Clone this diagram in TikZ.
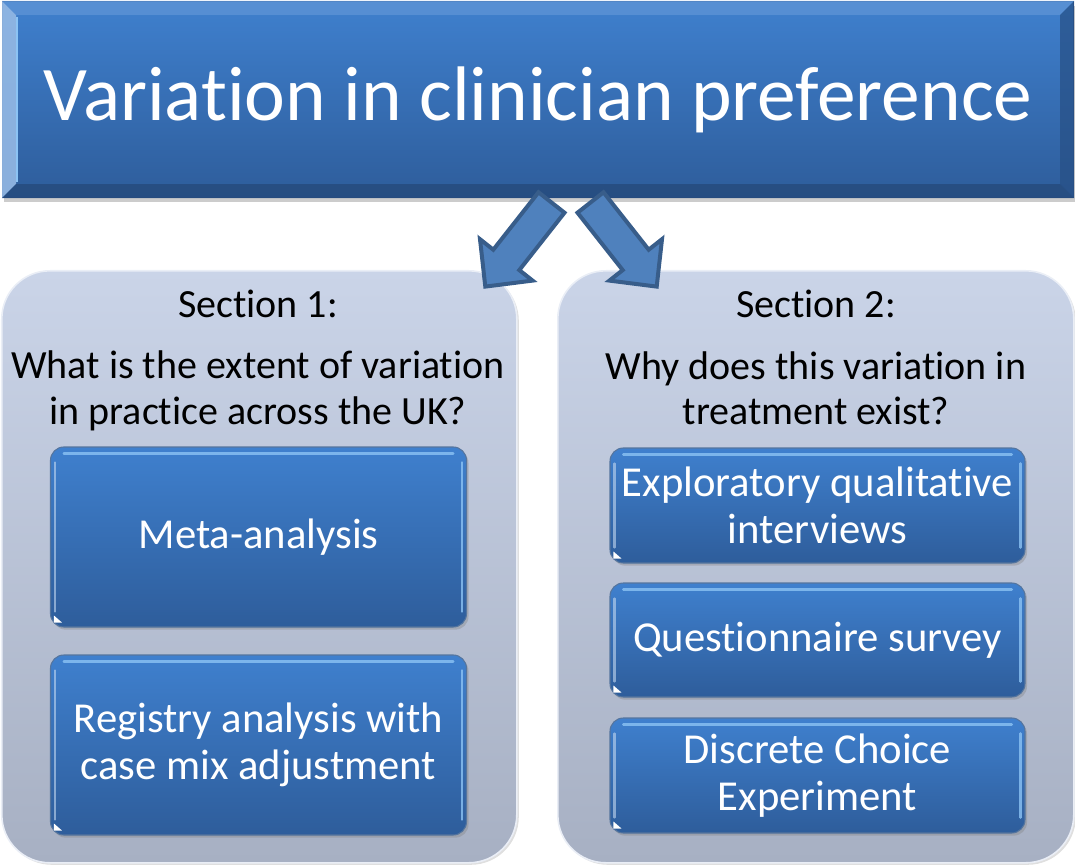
\documentclass[tikz,border=0pt]{standalone}
\usepackage{fontspec}
\setmainfont[Ligatures={NoCommon}]{Carlito}
\usetikzlibrary{shadows,calc}
\definecolor{bluetop}{HTML}{3F80CE}
\definecolor{bluebot}{HTML}{2E5D9B}
\definecolor{blueedge}{HTML}{2B5286}
\definecolor{bluehl}{HTML}{8CC3F4}
\definecolor{paneltop}{HTML}{CAD4E8}
\definecolor{panelbot}{HTML}{A7B0C3}
\definecolor{arrowfill}{HTML}{4F81BD}
\definecolor{arrowline}{HTML}{385D8A}
\newcommand\mybevel[1]{%
  \draw[bluehl, line width=2.2pt, opacity=0.8, line cap=round]
    ($(#1.north west)+(14,7)$) -- ($(#1.north east)+(-14,7)$);
  \draw[bluehl, line width=2pt, opacity=0.8, line cap=round]
    ($(#1.north east)+(-5,16)$) -- ($(#1.south east)+(-5,-16)$);
  \draw[white!70!bluetop, line width=1.6pt, opacity=0.6, line cap=round]
    ($(#1.north west)+(5,16)$) -- ($(#1.south west)+(5,-16)$);
  \fill[white] ($(#1.south west)+(4,-12)$) -- ($(#1.south west)+(12,-5)$) -- ($(#1.south west)+(4,-5)$) -- cycle;
}
\begin{document}
\begin{tikzpicture}[x=0.75pt,y=-0.75pt,
  panel/.style={rounded corners=36pt, top color=paneltop, bottom color=panelbot,
    draw=white!60!paneltop, line width=1.2pt,
    drop shadow={opacity=0.25, shadow xshift=1.5pt, shadow yshift=-1.5pt}},
  bluebox/.style={rounded corners=10pt, top color=bluetop, bottom color=bluebot,
    draw=blueedge!80, line width=0.8pt, text=white, align=center,
    font=\fontsize{32}{35}\selectfont,
    drop shadow={opacity=0.35, shadow xshift=1.5pt, shadow yshift=-2pt}},
  ptext/.style={text=black, align=center, font=\fontsize{30}{34}\selectfont},
  blockarrow/.style={fill=arrowfill, draw=arrowline, line width=3pt, line join=miter},
]
\useasboundingbox (0,0) rectangle (1075,866);

% title box
\node[top color=bluetop, bottom color=bluebot, draw=blueedge, line width=0.8pt,
  minimum width=1071*0.75pt, minimum height=196*0.75pt, inner sep=0pt,
  drop shadow={opacity=0.4, shadow xshift=1pt, shadow yshift=-3pt},
  anchor=north west] (title) at (2,1) {};
\fill[white!45!bluetop, opacity=0.9] (title.north west) -- (title.south west)
  -- ($(title.south west)+(14,-14)$) -- ($(title.north west)+(14,14)$) -- cycle;
\fill[white!15!bluetop, opacity=0.8] (title.north west) -- (title.north east)
  -- ($(title.north east)+(-14,14)$) -- ($(title.north west)+(14,14)$) -- cycle;
\fill[bluebot!85!black, opacity=0.7] (title.north east) -- (title.south east)
  -- ($(title.south east)+(-14,-14)$) -- ($(title.north east)+(-14,14)$) -- cycle;
\fill[bluebot!80!black, opacity=0.8] (title.south west) -- (title.south east)
  -- ($(title.south east)+(-14,-14)$) -- ($(title.south west)+(14,-14)$) -- cycle;
\draw[bluehl, line width=1.5pt] ($(title.north west)+(15,16)$) -- ($(title.south west)+(15,-16)$);
\node[text=white, font=\fontsize{58}{66}\selectfont] (titletext) at (538,100) {Variation in clinician preference};

% panels
\node[panel, minimum width=515*0.75pt, minimum height=592*0.75pt, anchor=north west] (p1) at (1,270) {};
\node[panel, minimum width=516*0.75pt, minimum height=592*0.75pt, anchor=north west] (p2) at (557,270) {};

% arrows
\draw[blockarrow] (538.5,192.3) -- (564.5,212.7) -- (519.3,270.1) -- (532.6,280.6)
  -- (485.3,286.6) -- (480.0,239.2) -- (493.3,249.7) -- cycle;
\draw[blockarrow] (603.5,192.3) -- (577.5,212.7) -- (622.7,270.1) -- (609.4,280.6)
  -- (656.7,286.6) -- (662.0,239.2) -- (648.7,249.7) -- cycle;

% panel texts
\node[ptext, anchor=base] (s1) at (258,318) {Section 1:};
\node[ptext] (q1) at (258,391) {What is the extent of variation\\in practice across the UK?};
\node[ptext, anchor=base] (s2) at (816,318) {Section 2:};
\node[ptext] (q2) at (816,388) {Why does this variation in\\treatment exist?};

% left boxes
\node[bluebox, minimum width=416*0.75pt, minimum height=180*0.75pt] (meta) at (258.5,537) {Meta-analysis};
\mybevel{meta}
\node[bluebox, minimum width=416*0.75pt, minimum height=180*0.75pt] (reg) at (258.5,745) {Registry analysis with\\case mix adjustment};
\mybevel{reg}

% right boxes
\node[bluebox, minimum width=415*0.75pt, minimum height=115*0.75pt] (expl) at (817.5,505.5) {Exploratory qualitative\\interviews};
\mybevel{expl}
\node[bluebox, minimum width=415*0.75pt, minimum height=114*0.75pt] (quest) at (817.5,640) {Questionnaire survey};
\mybevel{quest}
\node[bluebox, minimum width=415*0.75pt, minimum height=115*0.75pt] (dce) at (817.5,775.5) {Discrete Choice\\Experiment};
\mybevel{dce}
\end{tikzpicture}
\end{document}
